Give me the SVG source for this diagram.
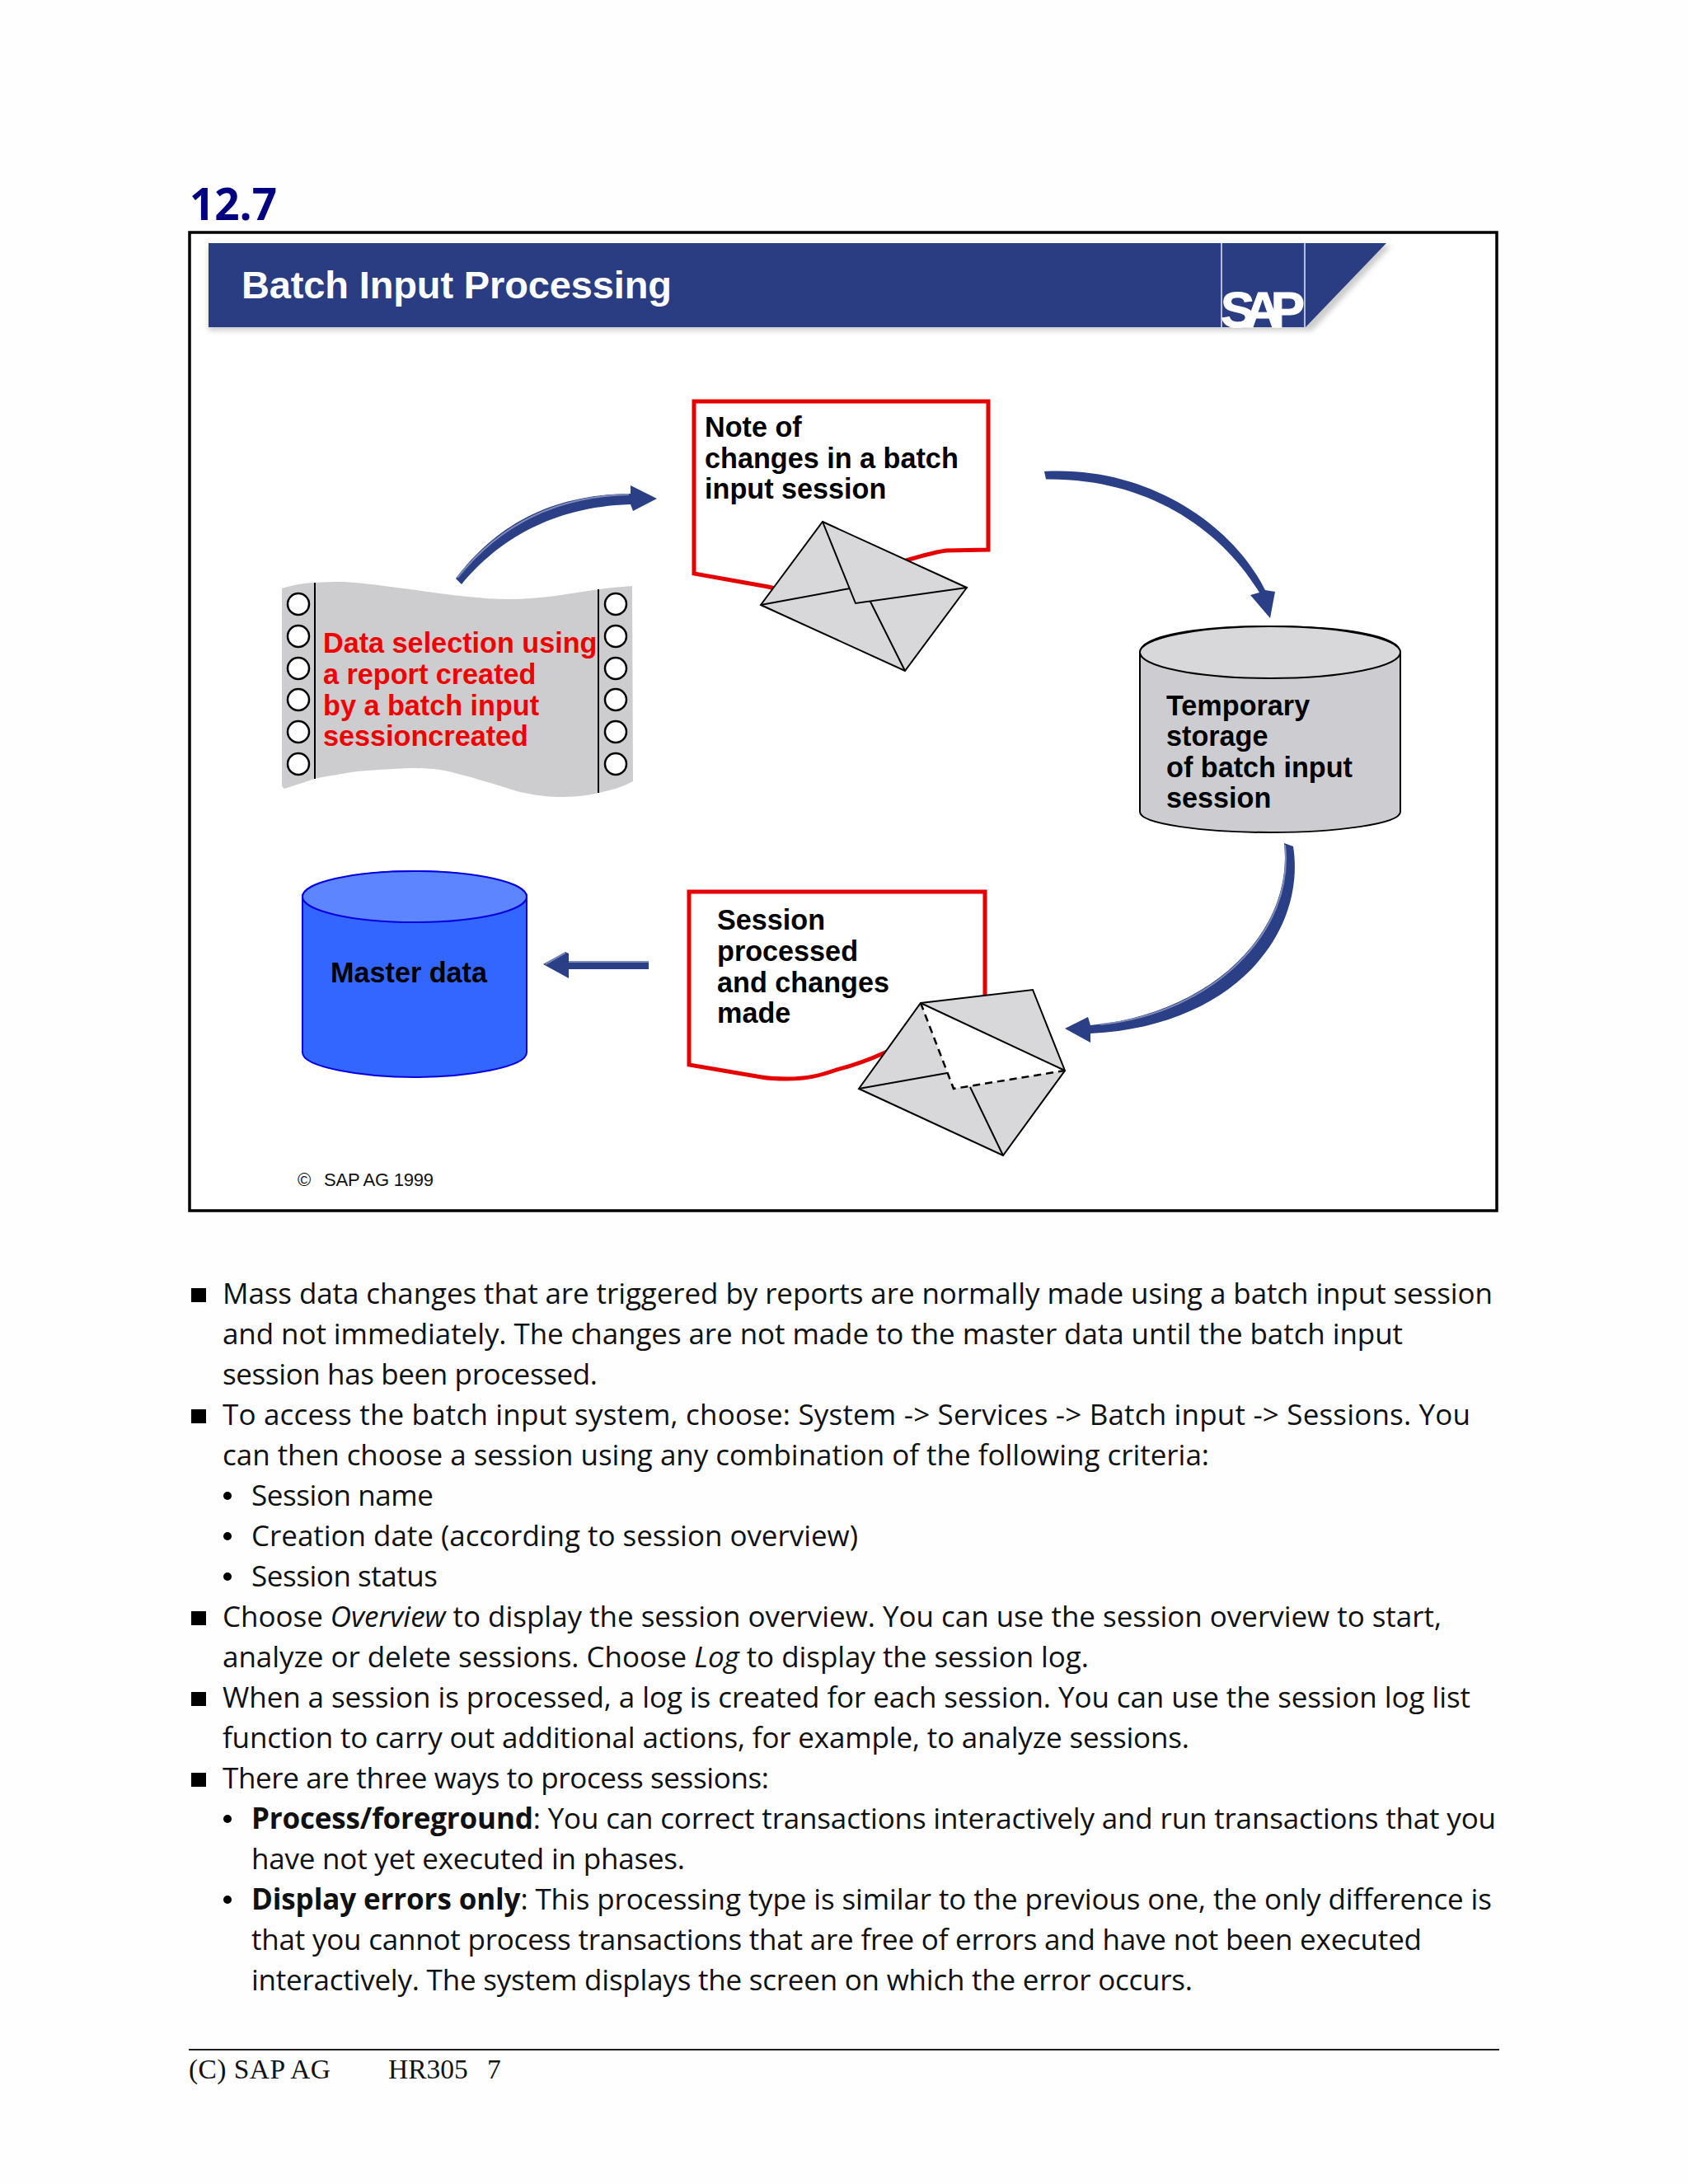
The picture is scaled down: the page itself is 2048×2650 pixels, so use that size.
<svg xmlns="http://www.w3.org/2000/svg" width="2048" height="2650" viewBox="0 0 2048 2650">
<style>
.lbl{font-family:"Liberation Sans",Arial,sans-serif;font-weight:700;font-size:34.2px;fill:#000}
.red{fill:#f00000}
.body{font-family:"Open Sans","Noto Sans",sans-serif;font-size:35px;fill:#111}
.b{font-weight:700}
.foot{font-family:"Liberation Serif","Times New Roman",serif;font-size:33.5px;fill:#111}
.env{fill:#d8d8da;stroke:#000;stroke-width:2;stroke-linejoin:miter}
.ln{fill:none;stroke:#000;stroke-width:2}
.dash{fill:none;stroke:#000;stroke-width:2.5;stroke-dasharray:9 6}
.note{fill:#fff;stroke:#e60000;stroke-width:5}
.arrow{fill:#2a3f86}
.shine{fill:none;stroke:#7f8cb8;stroke-width:2}
.hole{fill:#fff;stroke:#000;stroke-width:2.5}
.ban{fill:#2a3d82}
.copy{font-family:"Liberation Sans",Arial,sans-serif;font-size:22px;fill:#111}
</style>
<defs><filter id="blur" x="-5%" y="-20%" width="110%" height="140%"><feGaussianBlur stdDeviation="3"/></filter></defs>
<rect width="2048" height="2650" fill="#fefefe"/>
<text x="230" y="267" font-family="'Open Sans','Noto Sans',sans-serif" font-weight="700" font-size="53" fill="#000080">12.7</text>
<rect id="frame" x="230" y="282" width="1586" height="1187" fill="#fff" stroke="#000" stroke-width="3.5"/>
<g id="banner">
<path d="M253 298H1688L1592 401H253Z" fill="#aaa" filter="url(#blur)" opacity=".6"/>
<path class="ban" d="M253 295H1682L1584 397H253Z"/>
<path d="M1482 295V397M1583 295V397" stroke="#b4bcd6" stroke-width="2" fill="none"/>
<text x="293" y="362" font-family="'Liberation Sans',Arial,sans-serif" font-weight="700" font-size="47" fill="#fff" textLength="522">Batch Input Processing</text>
<text x="1481" y="397" font-family="'Liberation Sans',Arial,sans-serif" font-weight="700" font-size="62" fill="#fff" stroke="#fff" stroke-width="1" textLength="102" lengthAdjust="spacing">SAP</text>
</g>
<g id="connectors">
<path class="arrow" d="M553 702C600 640 665 600 765 599V589L797 605L768 620L765 612C670 615 605 655 560 709Z"/>
<path class="shine" d="M555 701C602 642 667 602 763 600"/>
<path class="arrow" d="M1267 572C1390 565 1495 635 1535 716L1547 718L1541 750L1517 722L1528 719C1480 640 1390 580 1269 581.5Z"/>
<path class="arrow" d="M1558 1023L1569 1027C1585 1130 1500 1245 1323 1254V1265L1292 1248L1320 1234L1323 1244C1470 1230 1570 1130 1558 1023Z"/>
<path class="shine" d="M1559 1025C1571 1130 1472 1229 1335 1243"/>
<path class="arrow" d="M787 1168V1176H690V1187L659 1170L686 1155L690 1157V1166Z"/>
<path class="shine" d="M787 1167H690M686 1156L662 1170"/>
</g>
<g id="sheet">
<path d="M342 714C355 710 370 707 382 707C395 706 405 706 417 706C480 710 560 727 617 727C660 727 690 720 727 715C740 713 755 712 767 711L768 948C755 955 745 958 727 962C710 966 695 967 677 967C660 967 640 963 627 960C595 950 570 942 540 935C520 932 510 932 497 932C475 933 455 934 433 936C415 939 400 941 382 945L345 957L342 954Z" fill="#cdcdcf"/>
<path class="ln" d="M382 707V945M726 715V962"/>
<g>
<circle class="hole" cx="362" cy="733" r="13"/><circle class="hole" cx="362" cy="772" r="13"/><circle class="hole" cx="362" cy="811" r="13"/><circle class="hole" cx="362" cy="849" r="13"/><circle class="hole" cx="362" cy="888" r="13"/><circle class="hole" cx="362" cy="927" r="13"/>
<circle class="hole" cx="747" cy="733" r="13"/><circle class="hole" cx="747" cy="772" r="13"/><circle class="hole" cx="747" cy="811" r="13"/><circle class="hole" cx="747" cy="849" r="13"/><circle class="hole" cx="747" cy="888" r="13"/><circle class="hole" cx="747" cy="927" r="13"/>
</g>
<text class="lbl red" x="392" y="792">Data selection using</text>
<text class="lbl red" x="392" y="830">a report created</text>
<text class="lbl red" x="392" y="868">by a batch input</text>
<text class="lbl red" x="392" y="905">sessioncreated</text>
</g>
<g id="note1">
<path class="note" d="M842 487H1199V667L1148 668C1120 672 1085 685 1060 692L990 715C965 716 945 716 932 712L842 696Z"/>
<text class="lbl" x="855" y="530">Note of</text>
<text class="lbl" x="855" y="568">changes in a batch</text>
<text class="lbl" x="855" y="605">input session</text>
<path class="env" d="M998 633L1173 713L1098 814L923 734Z"/>
<path class="ln" d="M998 633L1038 732L1173 713M923 734L1031 714M1056 730L1098 814"/>
</g>
<g id="storage">
<path d="M1383 792C1383 770 1460 760 1541 760C1622 760 1699 770 1699 792V985C1699 1000 1620 1010 1541 1010C1462 1010 1383 1000 1383 985Z" fill="#cdcdd1" stroke="#000" stroke-width="2"/>
<ellipse cx="1541" cy="791.5" rx="158" ry="31.5" fill="#d8d8da" stroke="#000" stroke-width="2"/>
<text class="lbl" x="1415" y="868">Temporary</text>
<text class="lbl" x="1415" y="905">storage</text>
<text class="lbl" x="1415" y="943">of batch input</text>
<text class="lbl" x="1415" y="980">session</text>
</g>
<g id="note2">
<path class="note" d="M836 1082H1195V1240L1100 1265L1074 1277C1050 1288 1035 1293 1015 1298C995 1305 980 1309 955 1309C945 1309 935 1309 924 1307L836 1292Z"/>
<text class="lbl" x="870" y="1128">Session</text>
<text class="lbl" x="870" y="1166">processed</text>
<text class="lbl" x="870" y="1204">and changes</text>
<text class="lbl" x="870" y="1241">made</text>
<path class="env" d="M1117 1217L1253 1201L1292 1299L1217 1402L1042 1321Z"/>
<path d="M1117 1217L1292 1299L1157 1321Z" fill="#fff"/>
<path class="ln" d="M1117 1217L1292 1299M1042 1321L1149 1302M1177 1319L1217 1402"/>
<path class="dash" d="M1117 1217L1157 1321L1292 1299"/>
</g>
<g id="master">
<path d="M367 1088C367 1070 440 1057 503 1057C566 1057 639 1070 639 1088V1277C639 1295 566 1307 503 1307C440 1307 367 1295 367 1277Z" fill="#3366ff" stroke="#0000e0" stroke-width="2"/>
<ellipse cx="503" cy="1088" rx="136" ry="31" fill="#5c85ff" stroke="#0000e0" stroke-width="2"/>
<text class="lbl" x="401" y="1192">Master data</text>
</g>
<g id="copyright">
<text class="copy" x="361" y="1439">©</text>
<text class="copy" x="393" y="1439" textLength="133">SAP AG 1999</text>
</g>
<g id="bullets" fill="#000">
<rect x="232" y="1563" width="18" height="17"/><rect x="232" y="1710" width="18" height="17"/><rect x="232" y="1955" width="18" height="17"/><rect x="232" y="2053" width="18" height="17"/><rect x="232" y="2151" width="18" height="17"/>
<circle cx="276" cy="1815" r="5"/><circle cx="276" cy="1864" r="5"/><circle cx="276" cy="1913" r="5"/><circle cx="276" cy="2207" r="5"/><circle cx="276" cy="2305" r="5"/>
</g>
<g id="body">
<text class="body" x="270" y="1582" textLength="1541">Mass data changes that are triggered by reports are normally made using a batch input session</text>
<text class="body" x="270" y="1631" textLength="1432">and not immediately. The changes are not made to the master data until the batch input</text>
<text class="body" x="270" y="1680" textLength="455">session has been processed.</text>
<text class="body" x="270" y="1729" textLength="1514">To access the batch input system, choose: System -&gt; Services -&gt; Batch input -&gt; Sessions. You</text>
<text class="body" x="270" y="1778" textLength="1197">can then choose a session using any combination of the following criteria:</text>
<text class="body" x="305" y="1827" textLength="221">Session name</text>
<text class="body" x="305" y="1876" textLength="736">Creation date (according to session overview)</text>
<text class="body" x="305" y="1925" textLength="226">Session status</text>
<text class="body" x="270" y="1974" textLength="1479">Choose <tspan font-style="italic">Overview</tspan> to display the session overview. You can use the session overview to start,</text>
<text class="body" x="270" y="2023" textLength="1051">analyze or delete sessions. Choose <tspan font-style="italic">Log</tspan> to display the session log.</text>
<text class="body" x="270" y="2072" textLength="1514">When a session is processed, a log is created for each session. You can use the session log list</text>
<text class="body" x="270" y="2121" textLength="1173">function to carry out additional actions, for example, to analyze sessions.</text>
<text class="body" x="270" y="2170" textLength="663">There are three ways to process sessions:</text>
<text class="body" x="305" y="2219" textLength="1510"><tspan class="b">Process/foreground</tspan>: You can correct transactions interactively and run transactions that you</text>
<text class="body" x="305" y="2268" textLength="526">have not yet executed in phases.</text>
<text class="body" x="305" y="2317" textLength="1505"><tspan class="b">Display errors only</tspan>: This processing type is similar to the previous one, the only difference is</text>
<text class="body" x="305" y="2366" textLength="1420">that you cannot process transactions that are free of errors and have not been executed</text>
<text class="body" x="305" y="2415" textLength="1142">interactively. The system displays the screen on which the error occurs.</text>
</g>
<g id="footer">
<path d="M229 2487H1819" stroke="#222" stroke-width="2"/>
<text class="foot" x="229" y="2522" textLength="172">(C) SAP AG</text>
<text class="foot" x="471" y="2522">HR305</text>
<text class="foot" x="591" y="2522">7</text>
</g>
</svg>
